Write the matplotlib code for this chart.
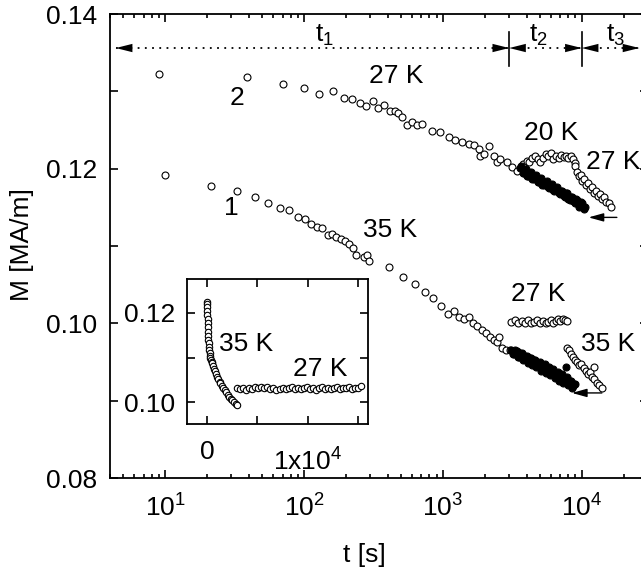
import numpy as np
import matplotlib
matplotlib.use('Agg')
import matplotlib.pyplot as plt
from matplotlib.transforms import ScaledTranslation
from matplotlib.ticker import LogLocator, NullFormatter, MultipleLocator, FixedLocator, FormatStrFormatter

plt.rcParams['font.family'] = ['Liberation Sans', 'DejaVu Sans']
plt.rcParams['mathtext.fontset'] = 'custom'
plt.rcParams['mathtext.rm'] = 'Liberation Sans'
plt.rcParams['mathtext.it'] = 'Liberation Sans'
plt.rcParams['mathtext.bf'] = 'Liberation Sans:bold'

# ---- curve 2 (27 K reference), interval t1
c2_t = [9, 39, 70, 100, 129, 161, 193, 220, 251, 281, 314, 341, 374, 413, 449, 472, 510, 552,
        600, 651, 707, 835, 958, 1099, 1228, 1372, 1531, 1663, 1807, 1858, 1963, 2133, 2317,
        2450, 2589, 2893, 3141, 3413]
c2_M = [0.1323, 0.1318, 0.1310, 0.1304, 0.1297, 0.1301, 0.1291, 0.1290, 0.1285, 0.1281, 0.1288,
        0.1279, 0.1282, 0.1274, 0.1275, 0.1272, 0.1267, 0.1257, 0.1260, 0.1256, 0.1258, 0.1249,
        0.1247, 0.1241, 0.1237, 0.1235, 0.1232, 0.1230, 0.1226, 0.1217, 0.1219, 0.1229, 0.1216,
        0.1208, 0.1213, 0.1208, 0.1202, 0.1197]

# curve 2, interval t2 at 20 K (open)
c2_20K_t = [3800, 4000, 4200, 4400, 4600, 4800, 5000, 5250, 5500, 5750, 6000, 6250, 6500, 6800,
            7100, 7400, 7700, 8000, 8300, 8600, 8900]
c2_20K_M = [0.1206, 0.1210, 0.1208, 0.1214, 0.1217, 0.1212, 0.1209, 0.1214, 0.1219, 0.1216,
            0.1220, 0.1213, 0.1216, 0.1214, 0.1218, 0.1215, 0.1217, 0.1214, 0.1216, 0.1212, 0.1207]

# curve 2, interval t2 at 27 K (filled, reference)
c2_ref_t = [3600, 3750, 3900, 4050, 4200, 4400, 4600, 4800, 5000, 5200, 5450, 5700, 5950, 6200,
            6500, 6800, 7100, 7400, 7700, 8000, 8350, 8700, 9050, 9400, 9800, 10200, 10600,
            3680, 3830, 3980, 4130, 4300, 4500, 4700, 4900, 5100, 5320, 5580, 5820, 6080, 6350,
            6650, 6950, 7250, 7550, 7850, 8180, 8520, 8880, 9220, 9600, 10000, 10400]
c2_ref_M = [0.1201, 0.1195, 0.1198, 0.1191, 0.1194, 0.1187, 0.1190, 0.1183, 0.1186, 0.1179,
            0.1182, 0.1176, 0.1179, 0.1172, 0.1175, 0.1168, 0.1171, 0.1165, 0.1168, 0.1161,
            0.1164, 0.1158, 0.1161, 0.1154, 0.1157, 0.1151, 0.1150,
            0.1203, 0.1195, 0.1200, 0.1191, 0.1196, 0.1187, 0.1192, 0.1183, 0.1188, 0.1179,
            0.1184, 0.1175, 0.1180, 0.1171, 0.1176, 0.1167, 0.1171, 0.1163, 0.1168, 0.1159,
            0.1164, 0.1155, 0.1160, 0.1151, 0.1156, 0.1148]

# curve 2, interval t3 back at 27 K
c2_back_t = [8900, 9200, 9500, 9800, 10100, 10400, 10700, 11000, 11400, 11800, 12200, 12600,
             13000, 13500, 14000, 14500, 15000, 15600, 16300]
c2_back_M = [0.1203, 0.1196, 0.1190, 0.1192, 0.1184, 0.1186, 0.1179, 0.1181, 0.1174, 0.1176,
             0.1169, 0.1171, 0.1165, 0.1167, 0.1161, 0.1163, 0.1157, 0.1155, 0.1150]

# ---- curve 1 (35 K reference), interval t1
c1_t = [10, 21.2, 32.9, 44.1, 55.3, 67.5, 78.3, 90.5, 101, 112, 124, 135, 149, 159, 171, 185,
        198, 209, 225, 238, 269, 284, 294, 406, 516, 626, 738, 849, 969, 1088, 1195, 1298, 1410,
        1531, 1648, 1762, 1914, 2053, 2168, 2317, 2450, 2518, 2661, 2858, 3053]
c1_M = [0.1192, 0.1178, 0.1171, 0.1164, 0.1155, 0.1149, 0.1147, 0.1137, 0.1135, 0.1129, 0.1125,
        0.1123, 0.1114, 0.1116, 0.1112, 0.1109, 0.1106, 0.1102, 0.1098, 0.1089, 0.1086, 0.1088,
        0.1081, 0.1073, 0.1060, 0.1051, 0.1041, 0.1033, 0.1022, 0.1012, 0.1016, 0.1008, 0.1006,
        0.1008, 0.1000, 0.0997, 0.0992, 0.0987, 0.0982, 0.0979, 0.0976, 0.0982, 0.0968, 0.0965,
        0.0965]

# curve 1, interval t2 at 27 K (open)
c1_27K_t = [3100, 3300, 3500, 3700, 3900, 4100, 4300, 4500, 4750, 5000, 5250, 5500, 5750, 6000,
            6250, 6500, 6750, 7000, 7300, 7600, 7800]
c1_27K_M = [0.1002, 0.1004, 0.1000, 0.1003, 0.1001, 0.1004, 0.1000, 0.1002, 0.1004, 0.1001,
            0.1003, 0.1000, 0.1002, 0.1004, 0.1001, 0.1003, 0.1005, 0.1003, 0.1005, 0.1004, 0.1003]

# curve 1, interval t2 at 35 K (filled, reference)
c1_ref_t = [3100, 3250, 3400, 3550, 3700, 3850, 4000, 4150, 4300, 4450, 4600, 4800, 5000, 5200,
            5400, 5600, 5800, 6000, 6250, 6500, 6750, 7000, 7250, 7500, 7640, 7800, 8100, 8400,
            8700, 9000,
            3180, 3320, 3470, 3620, 3770, 3920, 4070, 4220, 4370, 4520, 4700, 4900, 5100, 5300,
            5500, 5700, 5900, 6120, 6370, 6620, 6870, 7120, 7370, 7650, 7950, 8250, 8550, 8850]
c1_ref_M = [0.0965, 0.0960, 0.0964, 0.0957, 0.0961, 0.0954, 0.0958, 0.0951, 0.0955, 0.0949,
            0.0953, 0.0946, 0.0950, 0.0943, 0.0947, 0.0940, 0.0944, 0.0938, 0.0941, 0.0934,
            0.0937, 0.0930, 0.0934, 0.0927, 0.0944, 0.0930, 0.0923, 0.0926, 0.0919, 0.0921,
            0.0960, 0.0965, 0.0956, 0.0961, 0.0953, 0.0958, 0.0949, 0.0955, 0.0946, 0.0952,
            0.0943, 0.0948, 0.0939, 0.0944, 0.0936, 0.0941, 0.0933, 0.0938, 0.0929, 0.0934,
            0.0926, 0.0931, 0.0923, 0.0928, 0.0920, 0.0925, 0.0916, 0.0922]

# curve 1, interval t3 back at 35 K
c1_back_t = [7800, 8100, 8400, 8700, 9000, 9300, 9600, 9900, 10300, 10700, 11100, 11500, 11900,
             12160, 12300, 12800, 13300, 13900]
c1_back_M = [0.0968, 0.0965, 0.0960, 0.0956, 0.0953, 0.0950, 0.0946, 0.0948, 0.0942, 0.0939,
             0.0935, 0.0937, 0.0931, 0.0944, 0.0928, 0.0923, 0.0920, 0.0917]

# ---- inset (linear time)
in35_t = [0, 5, 10, 20, 30, 40, 55, 70, 90, 110, 130, 150, 170, 200, 240, 280, 330, 390, 450,
          500, 580, 670, 770, 880, 1000, 1120, 1250, 1330, 1460, 1600, 1750, 1900, 2050, 2170,
          2330, 2500, 2670, 2840, 3000]
in35_M = [0.1224, 0.1219, 0.1213, 0.1204, 0.1195, 0.1187, 0.1177, 0.1168, 0.1157, 0.1148,
          0.1140, 0.1132, 0.1124, 0.1117, 0.1110, 0.1104, 0.1099, 0.1094, 0.1090, 0.1087,
          0.1081, 0.1075, 0.1069, 0.1063, 0.1057, 0.1052, 0.1046, 0.1042, 0.1037, 0.1032,
          0.1027, 0.1022, 0.1016, 0.1012, 0.1008, 0.1004, 0.1000, 0.0996, 0.0993]
in27_t = [3000, 3300, 3600, 3900, 4200, 4500, 4800, 5100, 5400, 5700, 6000, 6300, 6600, 6900,
          7200, 7500, 7800, 8100, 8400, 8700, 9000, 9300, 9600, 9900, 10200, 10500, 10800,
          11100, 11400, 11700, 12000, 12300, 12600, 12900, 13200, 13500, 13800, 14100, 14400,
          14700, 15000, 15300]
in27_M = [0.1032, 0.1029, 0.1031, 0.1028, 0.1032, 0.1030, 0.1033, 0.1031, 0.1034, 0.1032,
          0.1035, 0.1029, 0.1031, 0.1028, 0.1030, 0.1032, 0.1029, 0.1031, 0.1033, 0.1030,
          0.1032, 0.1029, 0.1031, 0.1033, 0.1030, 0.1032, 0.1028, 0.1031, 0.1033, 0.1030,
          0.1032, 0.1029, 0.1031, 0.1033, 0.1030, 0.1032, 0.1031, 0.1033, 0.1030, 0.1032,
          0.1031, 0.1036]

# interval boundaries
t_edges = [4.4, 3000, 1e4, 2.6e4]

FS = 19
W, H = 641, 574
fig = plt.figure(figsize=(W / 100, H / 100), dpi=100)
ax = fig.add_axes([110 / W, 1 - 478 / H, 538 / W, 464 / H])
ax.set_xscale('log')
ax.set_xlim(4, 3e4)
ax.set_ylim(0.08, 0.14)

op = dict(marker='o', ms=5, mfc='white', mec='black', mew=0.8, ls='none')
fl = dict(marker='o', ms=5, mfc='black', mec='black', mew=0.8, ls='none')

ax.plot(c2_t, c2_M, **op)
ax.plot(c2_20K_t, c2_20K_M, **op)
ax.plot(c2_back_t, c2_back_M, **op)
ax.plot(c2_ref_t, c2_ref_M, **fl)
ax.plot(c1_t, c1_M, **op)
ax.plot(c1_27K_t, c1_27K_M, **op)
ax.plot(c1_back_t, c1_back_M, **op)
ax.plot(c1_ref_t, c1_ref_M, **fl)

for s in ax.spines.values():
    s.set_linewidth(1.3)
ax.xaxis.set_major_locator(LogLocator(base=10, numticks=10))
ax.xaxis.set_minor_locator(LogLocator(base=10, subs=np.arange(2, 10), numticks=20))
ax.xaxis.set_minor_formatter(NullFormatter())
ax.yaxis.set_major_locator(MultipleLocator(0.02))
ax.yaxis.set_minor_locator(MultipleLocator(0.01))
ax.yaxis.set_major_formatter(FormatStrFormatter('%.2f'))
ax.tick_params(which='both', direction='in', top=True, right=True, labelsize=FS, width=1.2)
ax.tick_params(axis='x', which='major', length=5.5, pad=12)
ax.tick_params(axis='x', which='minor', length=3)
ax.tick_params(axis='y', which='both', length=5.5, pad=9)

# interval arrows on top
ya = 0.1356
ax.plot([t_edges[0], t_edges[-1]], [ya, ya], color='k', lw=1.3, ls=(0, (1, 3)))
head = dict(arrowstyle='-|>,head_length=1.2,head_width=0.3', color='k', lw=0,
            shrinkA=0, shrinkB=0, mutation_scale=10)
for a, b in zip(t_edges[:-1], t_edges[1:]):
    ax.annotate('', xy=(a, ya), xytext=(14, 0), textcoords='offset points', arrowprops=head)
    ax.annotate('', xy=(b, ya), xytext=(-14, 0), textcoords='offset points', arrowprops=head)
for b in t_edges[1:3]:
    ax.plot([b, b], [0.1333, 0.1377], color='k', lw=1.2)
ax.text(140, 0.1372, 't$_1$', fontsize=FS, ha='center', va='center')
ax.text(4890, 0.1372, 't$_2$', fontsize=FS, ha='center', va='center')
ax.text(17400, 0.1372, 't$_3$', fontsize=FS, ha='center', va='center')

# labels on curves
ax.text(463, 0.1320, '27 K', fontsize=FS, ha='center', va='center')
ax.text(32.6, 0.1291, '2', fontsize=FS, ha='center', va='center')
ax.text(30, 0.1149, '1', fontsize=FS, ha='center', va='center')
ax.text(419, 0.1121, '35 K', fontsize=FS, ha='center', va='center')
ax.text(6040, 0.1246, '20 K', fontsize=FS, ha='center', va='center')
ax.text(16800, 0.1209, '27 K', fontsize=FS, ha='center', va='center')
ax.text(4890, 0.1038, '27 K', fontsize=FS, ha='center', va='center')
ax.text(15500, 0.0973, '35 K', fontsize=FS, ha='center', va='center')

small = dict(arrowstyle='-|>,head_length=0.9,head_width=0.25', color='k', lw=1.0,
             shrinkA=0, shrinkB=0, mutation_scale=10)
ax.annotate('', xy=(11190, 0.1137), xytext=(17900, 0.1137), arrowprops=small)
ax.annotate('', xy=(8490, 0.0910), xytext=(13960, 0.0910), arrowprops=small)

fig.text(364 / W, 1 - 555 / H, 't [s]', fontsize=FS, ha='center', va='center')
fig.text(22 / W, 1 - 245 / H, 'M [MA/m]', fontsize=FS, ha='center', va='center', rotation=90)

# inset
ins = fig.add_axes([187 / W, 1 - 424 / H, 181 / W, 145 / H])
ins.plot(in35_t, in35_M, marker='o', ms=4.6, mfc='white', mec='black', mew=0.8, ls='none')
ins.plot(in27_t, in27_M, marker='o', ms=4.6, mfc='white', mec='black', mew=0.8, ls='none')
ins.set_xlim(-2000, 16000)
ins.set_ylim(0.0951, 0.1276)
for s in ins.spines.values():
    s.set_linewidth(1.3)
ins.xaxis.set_major_locator(FixedLocator([0, 1e4]))
ins.xaxis.set_minor_locator(FixedLocator([5000, 15000]))
ins.set_xticklabels(['0', '1x10$^{4}$'])
ins.yaxis.set_major_locator(FixedLocator([0.10, 0.12]))
ins.yaxis.set_minor_locator(FixedLocator([0.11]))
ins.yaxis.set_major_formatter(FormatStrFormatter('%.2f'))
ins.tick_params(which='both', direction='in', top=True, right=True, labelsize=FS,
                length=5.5, width=1.2)
ins.tick_params(axis='x', pad=11.5)
ins.tick_params(axis='y', pad=8.6)
lab = ins.get_xticklabels()[1]
lab.set_transform(lab.get_transform() + ScaledTranslation(0, -0.08, fig.dpi_scale_trans))
ins.text(3830, 0.1130, '35 K', fontsize=FS, ha='center', va='center')
ins.text(11230, 0.1074, '27 K', fontsize=FS, ha='center', va='center')

fig.savefig('out.png', dpi=100)
